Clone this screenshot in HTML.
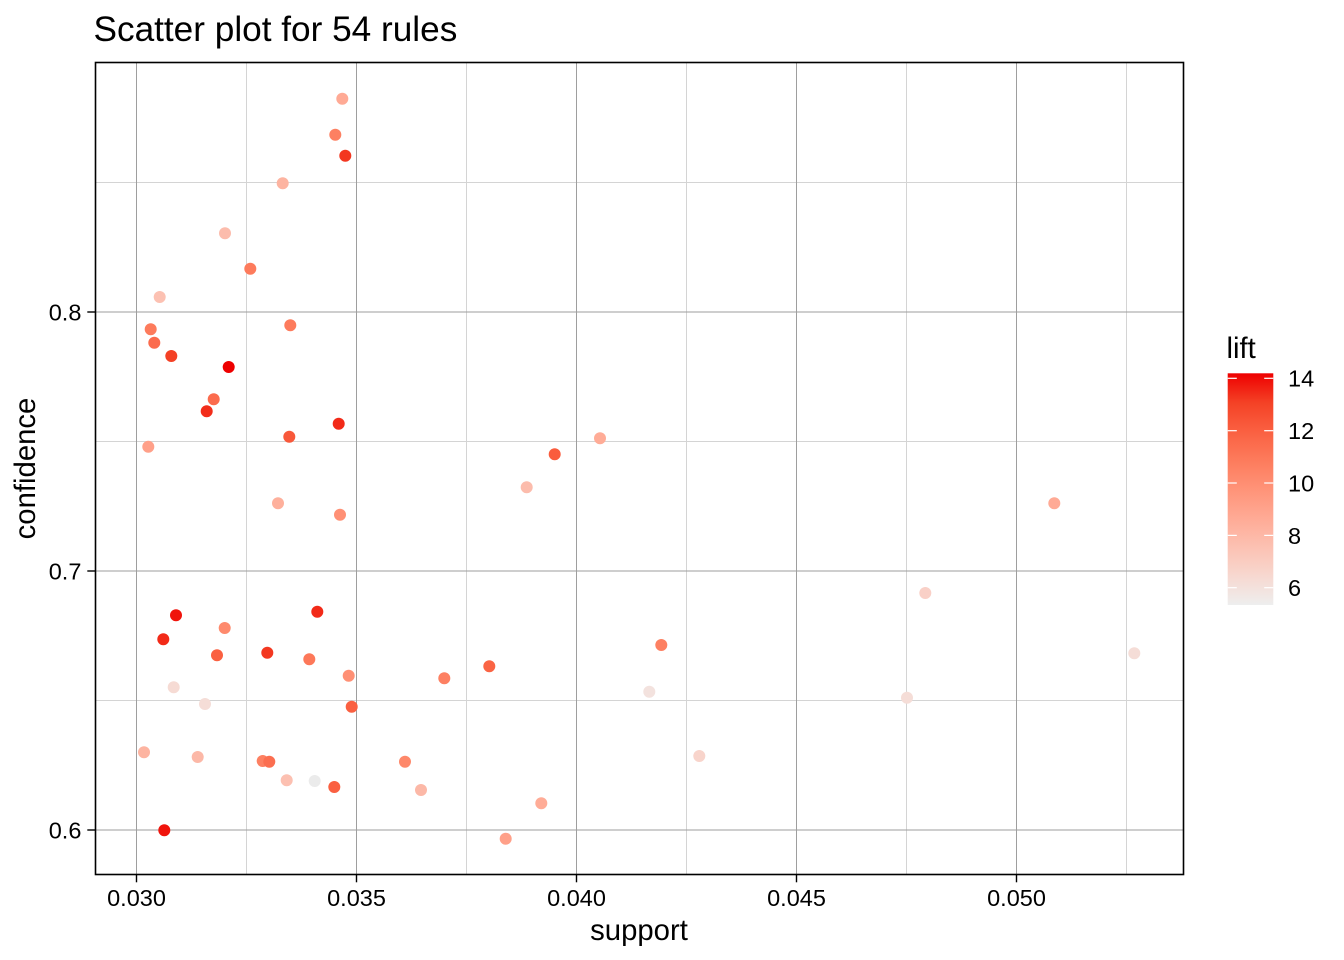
<!DOCTYPE html>
<html>
<head>
<meta charset="utf-8">
<style>
html,body{margin:0;padding:0;background:#fff;}
svg{display:block;}
text{font-family:"Liberation Sans",Arial,sans-serif;fill:#000;}
</style>
</head>
<body>
<svg width="1344" height="960" viewBox="0 0 1344 960" xmlns="http://www.w3.org/2000/svg">
<defs>
<linearGradient id="lg" x1="0" y1="1" x2="0" y2="0">
<stop offset="0" stop-color="rgb(238,238,238)"/>
<stop offset="0.125" stop-color="rgb(247,216,208)"/>
<stop offset="0.25" stop-color="rgb(252,193,178)"/>
<stop offset="0.375" stop-color="rgb(255,170,149)"/>
<stop offset="0.5" stop-color="rgb(255,147,120)"/>
<stop offset="0.625" stop-color="rgb(253,123,92)"/>
<stop offset="0.75" stop-color="rgb(250,96,65)"/>
<stop offset="0.875" stop-color="rgb(244,65,37)"/>
<stop offset="1" stop-color="rgb(238,0,0)"/>
</linearGradient>
</defs>
<rect x="0" y="0" width="1344" height="960" fill="#fff"/>
<text x="93.5" y="41" font-size="35.2">Scatter plot for 54 rules</text>
<g stroke="#d4d4d4" stroke-width="1" fill="none">
<line x1="246.5" y1="62" x2="246.5" y2="875"/>
<line x1="466.5" y1="62" x2="466.5" y2="875"/>
<line x1="686.5" y1="62" x2="686.5" y2="875"/>
<line x1="906.5" y1="62" x2="906.5" y2="875"/>
<line x1="1126.5" y1="62" x2="1126.5" y2="875"/>
<line x1="95" y1="182.5" x2="1183" y2="182.5"/>
<line x1="95" y1="441.5" x2="1183" y2="441.5"/>
<line x1="95" y1="700.5" x2="1183" y2="700.5"/>
</g>
<g stroke="#9e9e9e" stroke-width="1" fill="none">
<line x1="136.5" y1="62" x2="136.5" y2="875"/>
<line x1="356.5" y1="62" x2="356.5" y2="875"/>
<line x1="576.5" y1="62" x2="576.5" y2="875"/>
<line x1="796.5" y1="62" x2="796.5" y2="875"/>
<line x1="1016.5" y1="62" x2="1016.5" y2="875"/>
<line x1="95" y1="312" x2="1183" y2="312"/>
<line x1="95" y1="571" x2="1183" y2="571"/>
<line x1="95" y1="830" x2="1183" y2="830"/>
</g>
<g stroke="none">
<circle cx="342.3" cy="98.7" r="6" fill="rgb(255,170,149)"/>
<circle cx="335.3" cy="134.7" r="6" fill="rgb(253,128,98)"/>
<circle cx="345.3" cy="155.7" r="6" fill="rgb(243,55,32)"/>
<circle cx="282.7" cy="183.3" r="6" fill="rgb(253,180,161)"/>
<circle cx="225" cy="233.3" r="6" fill="rgb(252,188,172)"/>
<circle cx="250.3" cy="268.7" r="6" fill="rgb(253,123,92)"/>
<circle cx="159.7" cy="297" r="6" fill="rgb(252,193,178)"/>
<circle cx="290.3" cy="325.3" r="6" fill="rgb(253,123,92)"/>
<circle cx="150.7" cy="329.3" r="6" fill="rgb(253,123,92)"/>
<circle cx="154.3" cy="342.7" r="6" fill="rgb(251,107,77)"/>
<circle cx="171.3" cy="356" r="6" fill="rgb(244,65,37)"/>
<circle cx="228.7" cy="367" r="6" fill="rgb(238,0,0)"/>
<circle cx="213.7" cy="399.3" r="6" fill="rgb(251,107,77)"/>
<circle cx="206.7" cy="411.3" r="6" fill="rgb(242,45,26)"/>
<circle cx="338.7" cy="423.7" r="6" fill="rgb(242,42,24)"/>
<circle cx="289.3" cy="436.7" r="6" fill="rgb(248,88,58)"/>
<circle cx="148.3" cy="446.7" r="6" fill="rgb(255,160,137)"/>
<circle cx="278" cy="503.3" r="6" fill="rgb(254,176,156)"/>
<circle cx="340" cy="514.7" r="6" fill="rgb(255,144,117)"/>
<circle cx="176" cy="615.3" r="6" fill="rgb(240,20,12)"/>
<circle cx="163.3" cy="639.3" r="6" fill="rgb(242,42,24)"/>
<circle cx="224.7" cy="628" r="6" fill="rgb(254,138,109)"/>
<circle cx="217" cy="655.3" r="6" fill="rgb(250,96,65)"/>
<circle cx="317.3" cy="611.7" r="6" fill="rgb(242,42,24)"/>
<circle cx="267.3" cy="652.7" r="6" fill="rgb(243,56,32)"/>
<circle cx="309.3" cy="659.3" r="6" fill="rgb(253,120,89)"/>
<circle cx="348.7" cy="675.7" r="6" fill="rgb(255,144,117)"/>
<circle cx="351.7" cy="706.7" r="6" fill="rgb(250,96,65)"/>
<circle cx="173.7" cy="687.3" r="6" fill="rgb(246,219,212)"/>
<circle cx="205" cy="704" r="6" fill="rgb(245,221,215)"/>
<circle cx="144" cy="752.3" r="6" fill="rgb(253,180,161)"/>
<circle cx="197.7" cy="757" r="6" fill="rgb(252,184,167)"/>
<circle cx="262.7" cy="761" r="6" fill="rgb(253,128,98)"/>
<circle cx="269.3" cy="761.7" r="6" fill="rgb(251,110,80)"/>
<circle cx="286.7" cy="780.3" r="6" fill="rgb(252,192,177)"/>
<circle cx="314.7" cy="781" r="6" fill="rgb(235,235,235)"/>
<circle cx="334.3" cy="787" r="6" fill="rgb(250,96,65)"/>
<circle cx="164.3" cy="830.3" r="6" fill="rgb(240,20,12)"/>
<circle cx="444.3" cy="678.3" r="6" fill="rgb(253,128,98)"/>
<circle cx="489.3" cy="666.3" r="6" fill="rgb(250,100,68)"/>
<circle cx="661.3" cy="645" r="6" fill="rgb(253,128,98)"/>
<circle cx="649.3" cy="691.7" r="6" fill="rgb(243,226,222)"/>
<circle cx="699.3" cy="756" r="6" fill="rgb(248,212,203)"/>
<circle cx="405" cy="761.7" r="6" fill="rgb(254,136,106)"/>
<circle cx="421" cy="790" r="6" fill="rgb(252,184,167)"/>
<circle cx="541.3" cy="803.3" r="6" fill="rgb(255,172,151)"/>
<circle cx="505.7" cy="838.7" r="6" fill="rgb(255,160,137)"/>
<circle cx="600" cy="438.3" r="6" fill="rgb(255,172,151)"/>
<circle cx="554.7" cy="454.3" r="6" fill="rgb(250,92,61)"/>
<circle cx="526.7" cy="487.3" r="6" fill="rgb(252,188,172)"/>
<circle cx="1054.3" cy="503.3" r="6" fill="rgb(255,170,149)"/>
<circle cx="925.3" cy="593" r="6" fill="rgb(249,208,199)"/>
<circle cx="1134.3" cy="653.3" r="6" fill="rgb(245,221,215)"/>
<circle cx="907" cy="697.7" r="6" fill="rgb(245,221,215)"/>
</g>
<rect x="95.5" y="62.5" width="1088" height="812" fill="none" stroke="#000" stroke-width="1.6"/>
<g stroke="#000" stroke-width="1.4">
<line x1="136.5" y1="875" x2="136.5" y2="882.3"/>
<line x1="356.5" y1="875" x2="356.5" y2="882.3"/>
<line x1="576.5" y1="875" x2="576.5" y2="882.3"/>
<line x1="796.5" y1="875" x2="796.5" y2="882.3"/>
<line x1="1016.5" y1="875" x2="1016.5" y2="882.3"/>
<line x1="87.3" y1="312" x2="95" y2="312"/>
<line x1="87.3" y1="571" x2="95" y2="571"/>
<line x1="87.3" y1="830" x2="95" y2="830"/>
</g>
<g font-size="23.5" text-anchor="middle">
<text x="136.5" y="906">0.030</text>
<text x="356.5" y="906">0.035</text>
<text x="576.5" y="906">0.040</text>
<text x="796.5" y="906">0.045</text>
<text x="1016.5" y="906">0.050</text>
</g>
<g font-size="23.5" text-anchor="end">
<text x="81.4" y="320.4">0.8</text>
<text x="81.4" y="579.4">0.7</text>
<text x="81.4" y="838.4">0.6</text>
</g>
<text x="639" y="940" font-size="29.3" text-anchor="middle">support</text>
<text x="0" y="0" font-size="29.3" text-anchor="middle" transform="translate(35,468.5) rotate(-90)">confidence</text>
<text x="1226.5" y="358" font-size="29.3">lift</text>
<rect x="1227.7" y="373.3" width="45.6" height="231.7" fill="url(#lg)"/>
<g stroke="#fff" stroke-width="1.2">
<line x1="1227.7" y1="378.3" x2="1236.8" y2="378.3"/>
<line x1="1264.2" y1="378.3" x2="1273.3" y2="378.3"/>
<line x1="1227.7" y1="430.7" x2="1236.8" y2="430.7"/>
<line x1="1264.2" y1="430.7" x2="1273.3" y2="430.7"/>
<line x1="1227.7" y1="483" x2="1236.8" y2="483"/>
<line x1="1264.2" y1="483" x2="1273.3" y2="483"/>
<line x1="1227.7" y1="535.4" x2="1236.8" y2="535.4"/>
<line x1="1264.2" y1="535.4" x2="1273.3" y2="535.4"/>
<line x1="1227.7" y1="587.7" x2="1236.8" y2="587.7"/>
<line x1="1264.2" y1="587.7" x2="1273.3" y2="587.7"/>
</g>
<g font-size="23.5">
<text x="1288" y="386.7">14</text>
<text x="1288" y="439.1">12</text>
<text x="1288" y="491.4">10</text>
<text x="1288" y="543.8">8</text>
<text x="1288" y="596.1">6</text>
</g>
</svg>
</body>
</html>
